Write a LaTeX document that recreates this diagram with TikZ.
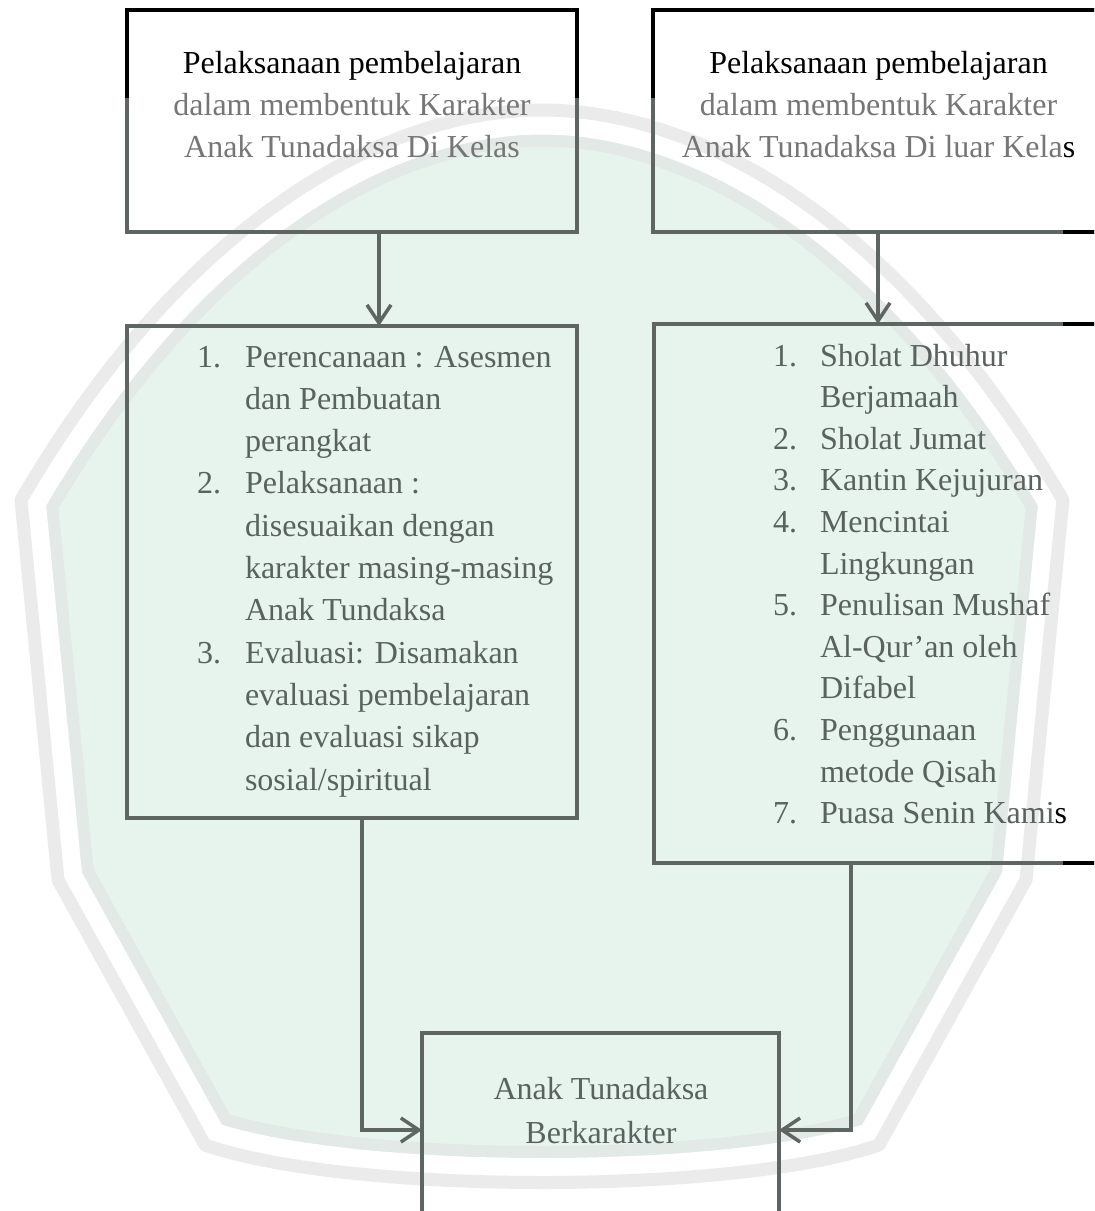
\documentclass[tikz,border=0pt]{standalone}
\usepackage{fontspec}
\setmainfont{Liberation Serif}
\usetikzlibrary{arrows.meta,calc}
\definecolor{lineg}{HTML}{5F6662}
\definecolor{listtext}{HTML}{59625E}
\definecolor{softtext}{HTML}{767676}
\definecolor{mint}{HTML}{E6F4ED}
\definecolor{wmband}{HTML}{EBEBEB}
\definecolor{wminner}{HTML}{E3E9E6}
\tikzset{
  boxn/.style={draw=lineg, line width=1.75pt, inner sep=0pt, outer sep=0pt, anchor=north west},
  blk/.style={draw=black, line width=1.75pt},
  arr/.style={draw=lineg, line width=1.75pt, -{Straight Barb[length=9pt,width=12pt]}},
  txt/.style={inner sep=0pt, outer sep=0pt, font=\fontsize{16}{21}\selectfont},
  listt/.style={txt, text=listtext, anchor=base west},
  headl/.style={txt, anchor=base},
}
\begin{document}
\begin{tikzpicture}[x=0.5pt,y=-0.5pt]
\useasboundingbox (0,0) rectangle (1094,1211);
\clip (0,0) rectangle (1094,1211);
% faint watermark shield
\begin{scope}
\clip (21,500) -- (58,880) -- (205,1145) .. controls (350,1195) and (734,1195) .. (879,1145) -- (1026,880) -- (1063,500) .. controls (900,220) and (700,110) .. (542,110) .. controls (384,110) and (184,220) .. (21,500) -- cycle;
\fill[mint] (0,0) rectangle (1094,1211);
\draw[wminner, line width=36.5pt, line join=round] (21,500) -- (58,880) -- (205,1145) .. controls (350,1195) and (734,1195) .. (879,1145) -- (1026,880) -- (1063,500) .. controls (900,220) and (700,110) .. (542,110) .. controls (384,110) and (184,220) .. (21,500) -- cycle;
\draw[white, line width=24.5pt, line join=round] (21,500) -- (58,880) -- (205,1145) .. controls (350,1195) and (734,1195) .. (879,1145) -- (1026,880) -- (1063,500) .. controls (900,220) and (700,110) .. (542,110) .. controls (384,110) and (184,220) .. (21,500) -- cycle;
\end{scope}
\draw[wmband, line width=6.5pt, line join=round] (21,500) -- (58,880) -- (205,1145) .. controls (350,1195) and (734,1195) .. (879,1145) -- (1026,880) -- (1063,500) .. controls (900,220) and (700,110) .. (542,110) .. controls (384,110) and (184,220) .. (21,500) -- cycle;

% boxes
\node[boxn, minimum width=225pt, minimum height=111pt] (b1) at (127,10) {};
\node[boxn, minimum width=230pt, minimum height=111pt] (b2) at (653,10) {};
\node[boxn, minimum width=225pt, minimum height=246pt] (b3) at (127,326) {};
\node[boxn, minimum width=230pt, minimum height=269.5pt] (b4) at (654,324) {};
\node[boxn, minimum width=178.5pt, minimum height=105pt] (b5) at (422,1033) {};

% black portions of the borders
\draw[blk] ([yshift=-44pt]b1.north west) -- (b1.north west) -- (b1.north east) -- ([yshift=-44pt]b1.north east);
\draw[blk] ([yshift=-44pt]b2.north west) -- (b2.north west) -- (b2.north east);
\draw[blk] ([xshift=205pt]b2.south west) -- (b2.south east);
\draw[blk] ([xshift=204.5pt]b4.north west) -- (b4.north east);
\draw[blk] ([xshift=204.5pt]b4.south west) -- (b4.south east);

% header texts
\node[headl, text=black] (h1a) at (352,73) {Pelaksanaan pembelajaran};
\node[headl, text=softtext] (h1b) at (352,115) {dalam membentuk Karakter};
\node[headl, text=softtext] (h1c) at (352,157) {Anak Tunadaksa Di Kelas};
\node[headl, text=black] (h2a) at (878.5,73) {Pelaksanaan pembelajaran};
\node[headl, text=softtext] (h2b) at (878.5,115) {dalam membentuk Karakter};
\node[headl, text=softtext] (h2c) at (878.5,157) {Anak Tunadaksa Di luar Kela\textcolor{black}{s}};

% left list
\node[listt] (na1) at (197,367) {1.};
\node[listt] (na2) at (197,493.9) {2.};
\node[listt] (na3) at (197,663.1) {3.};
\foreach \t [count=\i from 0] in {{Perencanaan : Asesmen},{dan Pembuatan},{perangkat},{Pelaksanaan :},{disesuaikan dengan},{karakter masing-masing},{Anak Tundaksa},{Evaluasi: Disamakan},{evaluasi pembelajaran},{dan evaluasi sikap},{sosial/spiritual}}
  \node[listt] (la\i) at (245,{367+\i*42.3}) {\t};

% right list
\node[listt] (nb1) at (773,366) {1.};
\node[listt] (nb2) at (773,449.2) {2.};
\node[listt] (nb3) at (773,490.8) {3.};
\node[listt] (nb4) at (773,532.4) {4.};
\node[listt] (nb5) at (773,615.6) {5.};
\node[listt] (nb6) at (773,740.4) {6.};
\node[listt] (nb7) at (773,823.6) {7.};
\foreach \t [count=\i from 0] in {{Sholat Dhuhur},{Berjamaah},{Sholat Jumat},{Kantin Kejujuran},{Mencintai},{Lingkungan},{Penulisan Mushaf},{Al-Qur’an oleh},{Difabel},{Penggunaan},{metode Qisah},{Puasa Senin Kami\textcolor{black}{s}}}
  \node[listt] (lb\i) at (820,{366+\i*41.6}) {\t};

% result box text
\node[headl, text=listtext] (r1) at (601,1099) {Anak Tunadaksa};
\node[headl, text=listtext] (r2) at (601,1143) {Berkarakter};

% connectors
\draw[arr] ([xshift=126pt]b1.south west) -- ([xshift=126pt]b3.north west);
\draw[arr] ([xshift=112.5pt]b2.south west) -- ([xshift=112.5pt]b2.south west |- b4.north);
\draw[arr] ([xshift=117.5pt]b3.south west) |- ([yshift=-48.5pt]b5.north west);
\draw[arr] ([xshift=98.5pt]b4.south west) |- ([yshift=-48.5pt]b5.north east);
\end{tikzpicture}
\end{document}
